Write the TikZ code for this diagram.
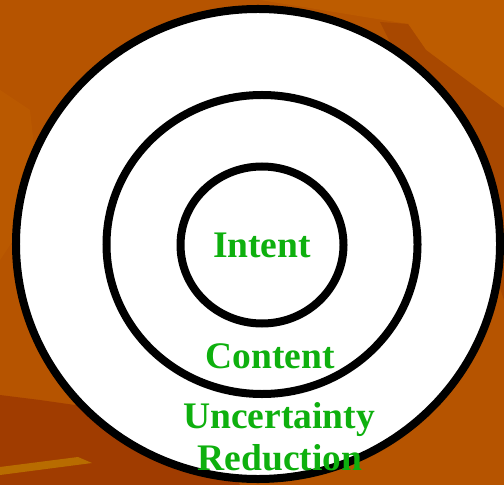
\documentclass[tikz,border=0pt]{standalone}
\usepackage{fontspec}
\setmainfont{Liberation Serif}
\usetikzlibrary{shapes.geometric}
\definecolor{bgbase}{RGB}{182,84,0}
\definecolor{bglight}{RGB}{189,92,0}
\definecolor{bgdark}{RGB}{168,72,0}
\definecolor{bgdeep}{RGB}{160,60,0}
\definecolor{bgstripe}{RGB}{184,108,0}
\definecolor{txtgreen}{RGB}{14,176,14}
\tikzset{
  ring/.style={draw=black, line width=8bp, fill=white, ellipse, inner sep=0pt},
  lbl/.style={text=txtgreen, font=\fontsize{37.5bp}{42bp}\selectfont\bfseries, inner sep=0pt, anchor=base, align=center}
}
\begin{document}
\begin{tikzpicture}[x=1bp, y=-1bp]
\useasboundingbox (0,0) rectangle (504,485);
% background
\fill[bgbase] (0,0) rectangle (504,485);
\fill[bglight] (0,0) -- (504,0) -- (504,110) -- (426,50) -- (408,24) -- (260,0) -- cycle;
\fill[bgdark] (380,22) -- (408,24) -- (426,50) -- (504,108) -- (504,300) -- (470,200) -- cycle;
\fill[bgdeep] (0,395) -- (40,400) -- (75,405) -- (160,420) -- (230,470) -- (240,485) -- (0,485) -- cycle;
\fill[bgstripe] (0,467) -- (78,457) -- (92,463) -- (0,475) -- cycle;
\fill[bglight!60!bgbase] (0,90) -- (30,110) -- (40,200) -- (0,260) -- cycle;
% rings
\node[ring, minimum width=484bp, minimum height=470bp] (outer) at (258,244) {};
\node[ring, minimum width=311bp, minimum height=299bp] (middle) at (262,244.5) {};
\node[ring, minimum width=163bp, minimum height=157bp] (inner) at (262,245) {};
% labels
\node[lbl] (intent) at (262,257) {Intent};
\node[lbl] (content) at (270,368) {Content};
\node[lbl] (uncert) at (279,428) {Uncertainty};
\node[lbl] (reduct) at (280,470) {Reduction};
\end{tikzpicture}
\end{document}
